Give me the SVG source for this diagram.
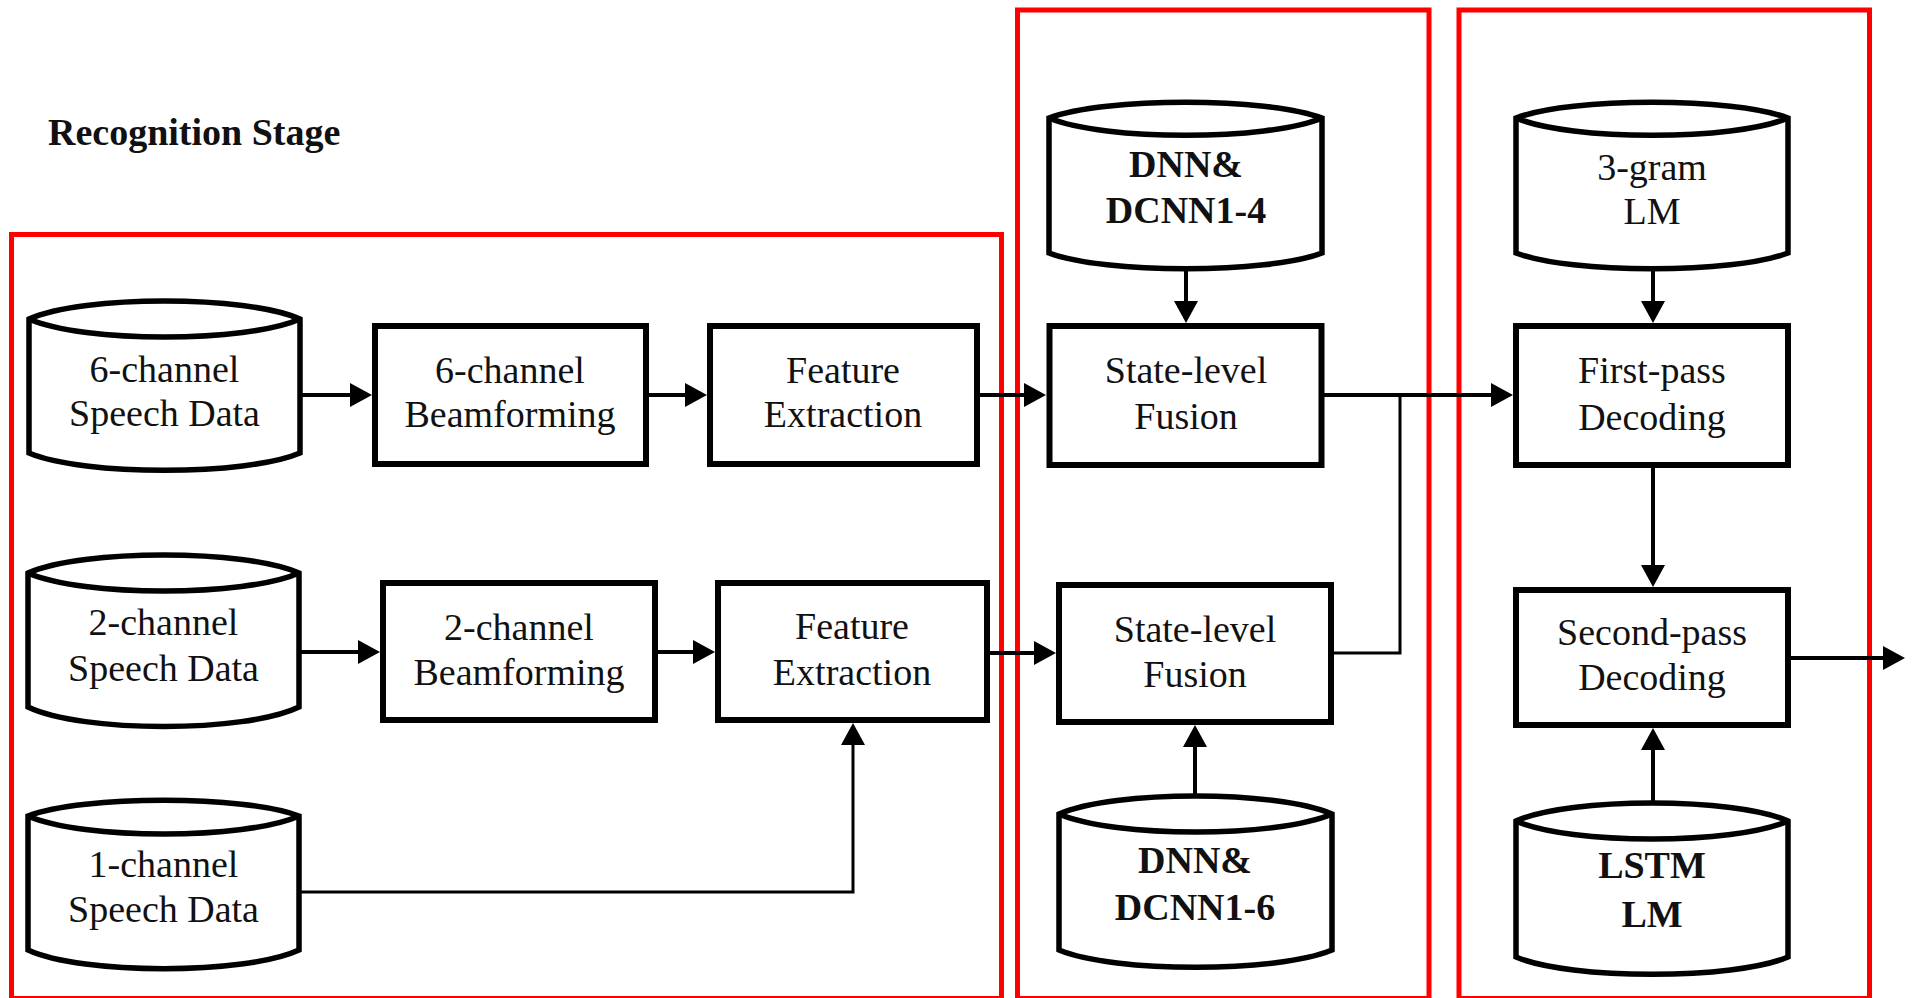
<svg xmlns="http://www.w3.org/2000/svg" width="1912" height="998" viewBox="0 0 1912 998">
  <style>
    .frame { fill: none; stroke: #ff0000; stroke-width: 5; }
    .box { fill: #ffffff; stroke: #000000; stroke-width: 6; }
    .cyl { fill: #ffffff; stroke: #000000; stroke-width: 5.5; stroke-linejoin: miter; }
    .cylf { fill: none; stroke: #000000; stroke-width: 5.5; }
    .lbl { font-family: "Liberation Serif", "Times New Roman", serif; font-size: 38px; fill: #111111; text-anchor: middle; }
    .bold { font-weight: bold; }
    .title { font-family: "Liberation Serif", "Times New Roman", serif; font-size: 38px; font-weight: bold; fill: #111111; }
    .wire { fill: none; stroke: #000000; stroke-width: 4; }
    .thin { fill: none; stroke: #000000; stroke-width: 3; }
    .arr { marker-end: url(#head); }
  </style>
  <defs>
    <marker id="head" viewBox="0 0 22 24" refX="12" refY="12" markerWidth="22" markerHeight="24" markerUnits="userSpaceOnUse" orient="auto">
      <path d="M0,0 L22,12 L0,24 Z" fill="#000000"/>
    </marker>
  </defs>

  <rect width="1912" height="998" fill="#ffffff"/>

  <!-- stage frames -->
  <g id="frames">
    <rect class="frame" x="11.5" y="234.5" width="990" height="764"/>
    <rect class="frame" x="1017.5" y="10" width="411.5" height="988.5"/>
    <rect class="frame" x="1459" y="10" width="410.5" height="988.5"/>
  </g>

  <text class="title" x="48" y="145">Recognition Stage</text>

  <!-- connectors -->
  <g id="connectors">
    <line class="wire arr" x1="300" y1="395" x2="362" y2="395"/>
    <line class="wire arr" x1="649" y1="395" x2="697" y2="395"/>
    <line class="wire arr" x1="980" y1="395" x2="1036" y2="395"/>
    <line class="wire arr" x1="1324" y1="395" x2="1503" y2="395"/>
    <polyline class="thin" points="1334,653 1400,653 1400,395"/>
    <line class="wire arr" x1="299" y1="652" x2="370" y2="652"/>
    <line class="wire arr" x1="658" y1="652" x2="705" y2="652"/>
    <line class="wire arr" x1="990" y1="653" x2="1046" y2="653"/>
    <polyline class="thin arr" points="299,892 853,892 853,733"/>
    <line class="wire arr" x1="1186" y1="270" x2="1186" y2="313"/>
    <line class="wire arr" x1="1195" y1="796" x2="1195" y2="735"/>
    <line class="wire arr" x1="1653" y1="270" x2="1653" y2="313"/>
    <line class="wire arr" x1="1653" y1="468" x2="1653" y2="577"/>
    <line class="wire arr" x1="1653" y1="803" x2="1653" y2="738"/>
    <line class="wire arr" x1="1791" y1="658" x2="1895" y2="658"/>
  </g>

  <!-- front-end stage -->
  <g id="speech6">
    <path class="cyl" d="M29,319 C83,295 246,295 300,319 L300,453 C246,476 83,476 29,453 Z"/>
    <path class="cylf" d="M29,319 C83,343 246,343 300,319"/>
    <text class="lbl" x="164.5" y="382">6-channel</text>
    <text class="lbl" x="164.5" y="426">Speech Data</text>
  </g>
  <g id="beam6">
    <rect class="box" x="375" y="326" width="271" height="138"/>
    <text class="lbl" x="510" y="383">6-channel</text>
    <text class="lbl" x="510" y="427">Beamforming</text>
  </g>
  <g id="feat6">
    <rect class="box" x="710" y="326" width="267" height="138"/>
    <text class="lbl" x="843" y="383">Feature</text>
    <text class="lbl" x="843" y="427">Extraction</text>
  </g>
  <g id="speech2">
    <path class="cyl" d="M28,573 C82,549 245,549 299,573 L299,707 C245,733 82,733 28,707 Z"/>
    <path class="cylf" d="M28,573 C82,597 245,597 299,573"/>
    <text class="lbl" x="163.5" y="635">2-channel</text>
    <text class="lbl" x="163.5" y="681">Speech Data</text>
  </g>
  <g id="beam2">
    <rect class="box" x="383" y="583" width="272" height="137"/>
    <text class="lbl" x="519" y="640">2-channel</text>
    <text class="lbl" x="519" y="685">Beamforming</text>
  </g>
  <g id="feat2">
    <rect class="box" x="718" y="583" width="269" height="137"/>
    <text class="lbl" x="852" y="639">Feature</text>
    <text class="lbl" x="852" y="685">Extraction</text>
  </g>
  <g id="speech1">
    <path class="cyl" d="M28,816 C82,795 245,795 299,816 L299,950 C245,975 82,975 28,950 Z"/>
    <path class="cylf" d="M28,816 C82,840 245,840 299,816"/>
    <text class="lbl" x="163.5" y="877">1-channel</text>
    <text class="lbl" x="163.5" y="922">Speech Data</text>
  </g>

  <!-- acoustic model stage -->
  <g id="am14">
    <path class="cyl" d="M1049,118 C1104,97 1267,97 1322,118 L1322,253 C1267,274 1104,274 1049,253 Z"/>
    <path class="cylf" d="M1049,118 C1104,141 1267,141 1322,118"/>
    <text class="lbl bold" x="1186" y="177">DNN&amp;</text>
    <text class="lbl bold" x="1186" y="223">DCNN1-4</text>
  </g>
  <g id="fusion1">
    <rect class="box" x="1049.5" y="326" width="272" height="139"/>
    <text class="lbl" x="1186" y="383">State-level</text>
    <text class="lbl" x="1186" y="429">Fusion</text>
  </g>
  <g id="fusion2">
    <rect class="box" x="1059" y="585" width="272" height="137"/>
    <text class="lbl" x="1195" y="642">State-level</text>
    <text class="lbl" x="1195" y="687">Fusion</text>
  </g>
  <g id="am16">
    <path class="cyl" d="M1059,814 C1114,790 1277,790 1332,814 L1332,950 C1277,973 1114,973 1059,950 Z"/>
    <path class="cylf" d="M1059,814 C1114,838 1277,838 1332,814"/>
    <text class="lbl bold" x="1195" y="873">DNN&amp;</text>
    <text class="lbl bold" x="1195" y="920">DCNN1-6</text>
  </g>

  <!-- language model stage -->
  <g id="lm3">
    <path class="cyl" d="M1516,118 C1570,97 1734,97 1788,118 L1788,253 C1734,274 1570,274 1516,253 Z"/>
    <path class="cylf" d="M1516,118 C1570,141 1734,141 1788,118"/>
    <text class="lbl" x="1652" y="180">3-gram</text>
    <text class="lbl" x="1652" y="224">LM</text>
  </g>
  <g id="pass1">
    <rect class="box" x="1516" y="326" width="272" height="139"/>
    <text class="lbl" x="1652" y="383">First-pass</text>
    <text class="lbl" x="1652" y="430">Decoding</text>
  </g>
  <g id="pass2">
    <rect class="box" x="1516" y="590" width="272" height="135"/>
    <text class="lbl" x="1652" y="645">Second-pass</text>
    <text class="lbl" x="1652" y="690">Decoding</text>
  </g>
  <g id="lstm">
    <path class="cyl" d="M1516,821 C1570,797 1734,797 1788,821 L1788,957 C1734,980 1570,980 1516,957 Z"/>
    <path class="cylf" d="M1516,821 C1570,845 1734,845 1788,821"/>
    <text class="lbl bold" x="1652" y="878">LSTM</text>
    <text class="lbl bold" x="1652" y="927">LM</text>
  </g>
</svg>
